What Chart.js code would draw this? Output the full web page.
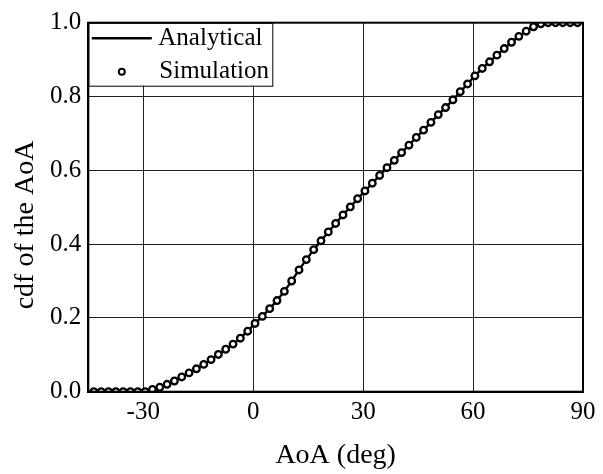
<!DOCTYPE html>
<html>
<head>
<meta charset="utf-8">
<script src="https://cdn.jsdelivr.net/npm/chart.js@4.4.0/dist/chart.umd.min.js"></script>
<style>
  html, body { margin: 0; padding: 0; background: #fff; }
  #wrap { width: 603px; height: 474px; }
</style>
</head>
<body>
<div id="wrap"><canvas id="cdf" width="603" height="474"></canvas></div>
<script>
// ===== data =====
const aoaDeg = [
  -43.5, -41.5, -39.5, -37.5, -35.5, -33.5, -31.5, -29.5, -27.5, -25.5,
  -23.5, -21.5, -19.5, -17.5, -15.5, -13.5, -11.5, -9.5, -7.5, -5.5,
  -3.5, -1.5, 0.5, 2.5, 4.5, 6.5, 8.5, 10.5, 12.5, 14.5,
  16.5, 18.5, 20.5, 22.5, 24.5, 26.5, 28.5, 30.5, 32.5, 34.5,
  36.5, 38.5, 40.5, 42.5, 44.5, 46.5, 48.5, 50.5, 52.5, 54.5,
  56.5, 58.5, 60.5, 62.5, 64.5, 66.5, 68.5, 70.5, 72.5, 74.5,
  76.5, 78.5, 80.5, 82.5, 84.5, 86.5, 88.5
];
const simCdf = [
  0, 0, 0, 0, 0, 0, 0, 0, 0.006, 0.012,
  0.020, 0.029, 0.040, 0.051, 0.062, 0.074, 0.087, 0.101, 0.115, 0.129,
  0.145, 0.164, 0.185, 0.204, 0.225, 0.247, 0.272, 0.300, 0.330, 0.358,
  0.385, 0.409, 0.433, 0.456, 0.479, 0.501, 0.523, 0.544, 0.565, 0.586,
  0.607, 0.627, 0.648, 0.668, 0.689, 0.709, 0.730, 0.751, 0.770, 0.791,
  0.813, 0.834, 0.856, 0.876, 0.894, 0.912, 0.930, 0.947, 0.963, 0.977,
  0.989, 0.997, 1, 1, 1, 1, 1
];
// analytical curve end points at the axis limits
const analyticStart = [-45, 0];
const analyticEnd = [90, 1];

const xTicks = [-30, 0, 30, 60, 90];
const yTicks = [0, 0.2, 0.4, 0.6, 0.8, 1.0];
const seriesLabels = ['Analytical', 'Simulation'];
const xTitle = 'AoA (deg)';
const yTitle = 'cdf of the AoA';

const FONT = "'Liberation Serif', 'Times New Roman', serif";

// ===== helpers =====
const simPoints = aoaDeg.map((x, i) => ({ x: x, y: simCdf[i] }));
const analyticPoints = [{ x: analyticStart[0], y: analyticStart[1] }]
  .concat(simPoints)
  .concat([{ x: analyticEnd[0], y: analyticEnd[1] }]);

// legend in a framed box at the top-left corner of the plot
const legendBox = {
  id: 'legendBox',
  afterDatasetsDraw(chart) {
    const { ctx, chartArea: a } = chart;
    const w = 184, h = 63;
    ctx.save();
    ctx.fillStyle = '#fff';
    ctx.fillRect(a.left, a.top, w, h);
    ctx.strokeStyle = '#000';
    ctx.lineWidth = 1;
    ctx.strokeRect(a.left + 0.5, a.top + 0.5, w, h);

    // Analytical: line sample
    ctx.lineWidth = 2.5;
    ctx.beginPath();
    ctx.moveTo(a.left + 3.5, a.top + 15.5);
    ctx.lineTo(a.left + 63.5, a.top + 15.5);
    ctx.stroke();

    // Simulation: marker sample
    ctx.lineWidth = 2;
    ctx.fillStyle = '#fff';
    ctx.beginPath();
    ctx.arc(a.left + 33.5, a.top + 49, 3, 0, Math.PI * 2);
    ctx.fill();
    ctx.stroke();

    ctx.fillStyle = '#000';
    ctx.font = '25px ' + FONT;
    ctx.textAlign = 'left';
    ctx.textBaseline = 'middle';
    ctx.fillText(seriesLabels[0], a.left + 70, a.top + 15.5);
    ctx.fillText(seriesLabels[1], a.left + 71, a.top + 48.8);
    ctx.restore();
  }
};

// frame round the plot + y title (sits a little below the centre in the original)
const frame = {
  id: 'frame',
  afterDraw(chart) {
    const { ctx, chartArea: a } = chart;
    ctx.save();
    ctx.strokeStyle = '#000';
    ctx.lineWidth = 2;
    ctx.strokeRect(a.left, a.top, a.right - a.left, a.bottom - a.top);

    ctx.translate(25.5, 225);
    ctx.rotate(-Math.PI / 2);
    ctx.fillStyle = '#000';
    ctx.font = '28px ' + FONT;
    ctx.textAlign = 'center';
    ctx.textBaseline = 'middle';
    ctx.fillText(yTitle, 0, 0);
    ctx.restore();
  }
};

new Chart(document.getElementById('cdf'), {
  type: 'scatter',
  data: {
    datasets: [{
      label: seriesLabels[1],
      data: simPoints,
      order: 0,
      showLine: false,
      pointRadius: 3.3,
      pointBorderWidth: 2.3,
      pointBorderColor: '#000',
      pointBackgroundColor: '#fff',
      clip: 0
    }, {
      label: seriesLabels[0],
      data: analyticPoints,
      order: 1,
      showLine: true,
      borderColor: '#000',
      borderWidth: 2.4,
      pointRadius: 0,
      tension: 0,
      clip: 0
    }]
  },
  options: {
    responsive: false,
    devicePixelRatio: 1,
    animation: false,
    layout: { padding: { top: 22.7, right: 20, left: 0, bottom: 0 } },
    plugins: {
      legend: { display: false },
      tooltip: { enabled: false }
    },
    scales: {
      x: {
        type: 'linear',
        min: -45,
        max: 90,
        afterBuildTicks: s => { s.ticks = xTicks.map(v => ({ value: v })); },
        afterFit: s => { s.height = 82.3; },
        grid: { color: '#222', lineWidth: 1, drawTicks: false },
        border: { display: true, color: '#000', width: 2 },
        ticks: {
          color: '#000',
          padding: 6,
          maxRotation: 0,
          font: { family: FONT, size: 25 },
          callback: v => String(v)
        },
        title: {
          display: true,
          text: xTitle,
          color: '#000',
          font: { family: FONT, size: 28 },
          padding: { top: 0, bottom: 2 }
        }
      },
      y: {
        type: 'linear',
        min: 0,
        max: 1,
        afterBuildTicks: s => { s.ticks = yTicks.map(v => ({ value: v })); },
        afterFit: s => { s.width = 88.3; },
        grid: { color: '#222', lineWidth: 1, drawTicks: false },
        border: { display: true, color: '#000', width: 2 },
        ticks: {
          color: '#000',
          padding: 7,
          font: { family: FONT, size: 25 },
          callback: v => Number(v).toFixed(1)
        },
        title: { display: false }
      }
    }
  },
  plugins: [legendBox, frame]
});
</script>
</body>
</html>
